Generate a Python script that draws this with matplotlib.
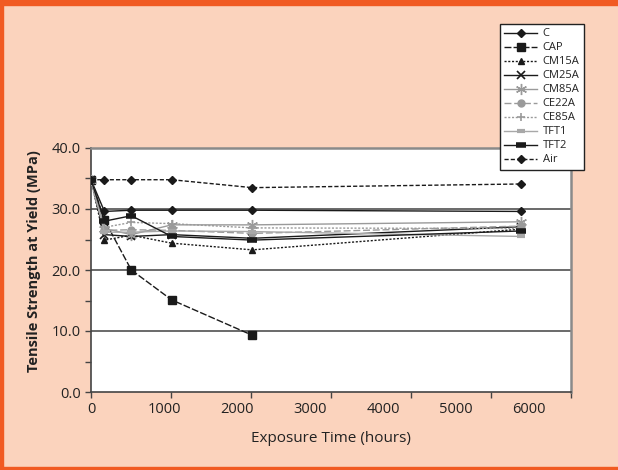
import matplotlib
matplotlib.use("Agg")
import matplotlib.pyplot as plt
from matplotlib.patches import Rectangle

plt.rcParams['font.family'] = ['Open Sans', 'DejaVu Sans']

hours = [0, 168, 504, 1008, 2016, 5376]
series_names = ["C", "CAP", "CM15A", "CM25A", "CM85A", "CE22A", "CE85A", "TFT1", "TFT2", "Air"]
C     = [34.8, 29.6, 29.8, 29.8, 29.8, 29.6]
CAP   = [34.8, 28.2, 20.0, 15.1, 9.3]
CM15A = [34.8, 24.9, 25.7, 24.4, 23.3, 26.7]
CM25A = [34.8, 25.8, 25.5, 25.8, 25.2, 27.1]
CM85A = [34.8, 26.8, 25.8, 27.4, 27.4, 27.9]
CE22A = [34.8, 26.5, 26.6, 26.5, 26.0, 27.2]
CE85A = [34.8, 27.0, 27.8, 27.6, 26.9, 26.8]
TFT1  = [34.8, 26.2, 26.2, 26.4, 26.3, 25.5]
TFT2  = [34.8, 28.0, 28.9, 25.5, 24.9, 26.4]
Air   = [34.8, 34.8, 34.8, 34.8, 33.5, 34.1]
values = [C, CAP, CM15A, CM25A, CM85A, CE22A, CE85A, TFT1, TFT2, Air]

x_tick_labels = ["0", "1000", "2000", "3000", "4000", "5000", "6000"]
y_tick_labels = ["0.0", "10.0", "20.0", "30.0", "40.0"]

dk = "#1a1a1a"
gr = "#9a9a9a"
styles = [
    dict(color=dk, ls="-", marker="D", ms=4, mfc=dk, mec=dk),
    dict(color=dk, ls=(0, (5, 1.5)), marker="s", ms=6, mfc=dk, mec=dk),
    dict(color=dk, ls=(0, (1.5, 1.2)), marker="^", ms=5, mfc=dk, mec=dk),
    dict(color=dk, ls="-", marker="x", ms=6, mew=1.2, mfc=dk, mec=dk),
    dict(color=gr, ls="-", marker=(6, 2, 0), ms=8, mec=gr, mew=1.0),
    dict(color=gr, ls=(0, (5, 2)), marker="o", ms=5, mfc=gr, mec=gr),
    dict(color=gr, ls=(0, (1.5, 1.2)), marker="+", ms=6, mew=1.2, mfc=gr, mec=gr),
    dict(color="#a8a8a8", ls="-", marker="_", ms=6, mew=3, mfc="#a8a8a8", mec="#a8a8a8"),
    dict(color=dk, ls="-", marker="_", ms=7, mew=4, mfc=dk, mec=dk),
    dict(color=dk, ls=(0, (3, 1.5)), marker="D", ms=4, mfc=dk, mec=dk),
]

W, H = 618, 470
fig = plt.figure(figsize=(W / 100, H / 100), dpi=100)
fig.patch.set_facecolor("#FBD3BD")
orange = "#F15A22"
fig.patches.append(Rectangle((0, 1 - 5 / H), 1, 5 / H, transform=fig.transFigure, color=orange, zorder=0))
fig.patches.append(Rectangle((0, 0), 3 / W, 1, transform=fig.transFigure, color=orange, zorder=0))
fig.patches.append(Rectangle((0, 0), 1, 3 / H, transform=fig.transFigure, color=orange, zorder=0))

left, right, top, bottom = 91, 571, 148, 392
ax = fig.add_axes([left / W, 1 - bottom / H, (right - left) / W, (bottom - top) / H])
ax.set_facecolor("white")

lines = []
for name, vals, st in zip(series_names, values, styles):
    ln, = ax.plot(hours[:len(vals)], vals, lw=1.0, label=name, zorder=3, **st)
    lines.append(ln)

ax.set_xlim(0, 6000)
ax.set_ylim(0, 40)

# tick marks every 1000 h; labels drawn as in the original (slightly compressed spacing)
ax.xaxis.remove_overlapping_locs = False
ax.set_xticks(range(0, 7000, 1000))
ax.set_xticklabels([""] * 7)
ax.set_xticks([k * 912.5 for k in range(7)], minor=True)
ax.set_xticklabels(x_tick_labels, minor=True)
ax.tick_params(axis="x", which="minor", length=0, pad=7, labelsize=10.5, labelcolor="#222")
ax.tick_params(axis="x", which="major", length=4, width=1, color="#444", direction="out")

ax.set_yticks([0, 10, 20, 30, 40])
ax.set_yticklabels(y_tick_labels)
ax.set_yticks([5, 15, 25, 35], minor=True)
ax.tick_params(axis="y", which="both", length=4, width=1, color="#444", direction="out", labelsize=10.5, labelcolor="#222")

for yv in [10, 20, 30]:
    ax.axhline(yv, color="#5e5e5e", lw=1.3, zorder=1)

for s in ["left", "bottom"]:
    ax.spines[s].set_color("#444")
    ax.spines[s].set_linewidth(1.2)
for s in ["top", "right"]:
    ax.spines[s].set_color("#8a8a8a")
    ax.spines[s].set_linewidth(1.8)

ax.set_xlabel("Exposure Time (hours)", fontsize=11, color="#222", labelpad=10)
ax.set_ylabel("Tensile Strength at Yield (MPa)", fontsize=10.5, fontweight="bold", color="#222")
ax.yaxis.set_label_coords(-50 / (right - left), 0.535)

leg = fig.legend(handles=lines, loc="upper left", bbox_to_anchor=(500 / W, 1 - 24 / H),
                 fontsize=8, frameon=True, fancybox=False, framealpha=1, edgecolor="#222",
                 handlelength=2.9, handletextpad=0.55, labelspacing=0.27, borderpad=0.4,
                 borderaxespad=0)
leg.get_frame().set_linewidth(1.0)
for t in leg.get_texts():
    t.set_color("#222")

fig.savefig("out.png", dpi=100, facecolor=fig.get_facecolor())
